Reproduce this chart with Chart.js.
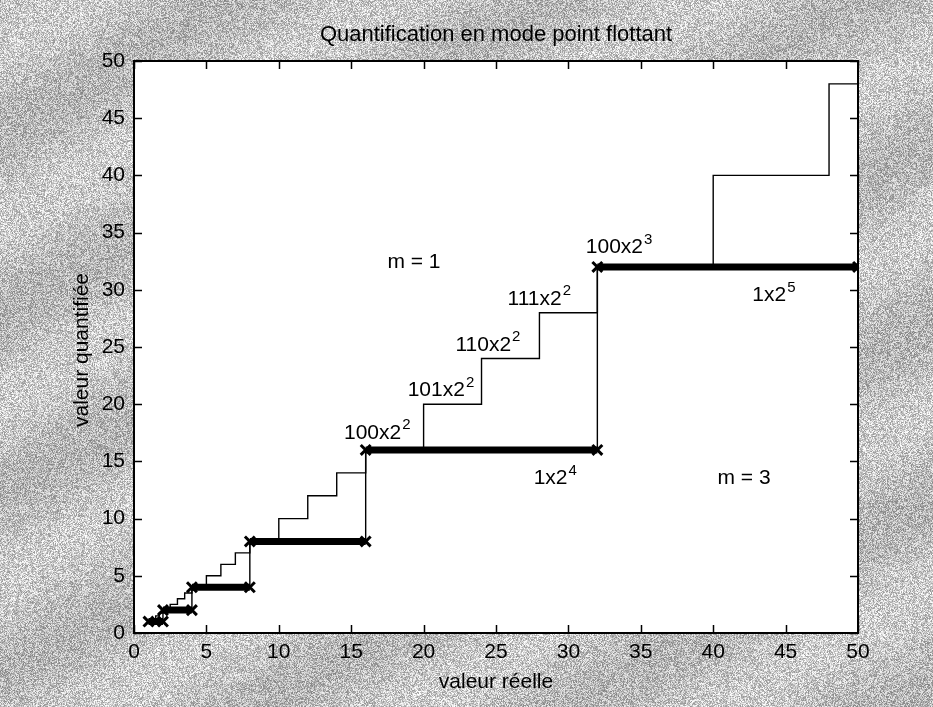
<!DOCTYPE html>
<html>
<head>
<meta charset="utf-8">
<script src="https://cdn.jsdelivr.net/npm/chart.js@4.4.0/dist/chart.umd.min.js"></script>
<style>
  html, body { margin: 0; padding: 0; background: #bcbcbc; }
  #wrap { width: 933px; height: 707px; }
</style>
</head>
<body>
<div id="wrap"><canvas id="graph" width="933" height="707"></canvas></div>
<script>
// Niveaux de quantification lus sur la figure
// m = 3 : mantisse sur 3 bits (escalier fin)
const niveauxM3 = [1, 1.25, 1.5, 1.75, 2, 2.5, 3, 3.5, 4, 5, 6, 7, 8, 10, 12, 14, 16, 20, 24, 28, 32, 40, 48];
// m = 1 : puissances de 2 (traits épais)
const niveauxM1 = [1, 2, 4, 8, 16, 32];
const xFin = 50;
const ticksX = [0, 5, 10, 15, 20, 25, 30, 35, 40, 45, 50];
const ticksY = [0, 5, 10, 15, 20, 25, 30, 35, 40, 45, 50];

// Annotations du graphique (texte, exposant)
const etiquettes = [
  { txt: "m = 1", exp: "", x: 17.5, y: 32.4 },
  { txt: "m = 3", exp: "", x: 40.3, y: 13.5 },
  { txt: "100x2", exp: "2", x: 14.5, y: 17.5 },
  { txt: "101x2", exp: "2", x: 18.9, y: 21.2 },
  { txt: "110x2", exp: "2", x: 22.2, y: 25.2 },
  { txt: "111x2", exp: "2", x: 25.8, y: 29.2 },
  { txt: "100x2", exp: "3", x: 31.2, y: 33.7 },
  { txt: "1x2", exp: "4", x: 27.6, y: 13.5 },
  { txt: "1x2", exp: "5", x: 42.7, y: 29.5 }
];

// Escalier m = 3
const ptsM3 = niveauxM3.map(v => ({ x: v, y: v }));
ptsM3.push({ x: xFin, y: niveauxM3[niveauxM3.length - 1] });

// Escalier m = 1 (trait fin)
const ptsM1 = niveauxM1.map(v => ({ x: v, y: v }));
ptsM1.push({ x: xFin, y: niveauxM1[niveauxM1.length - 1] });

// Paliers épais m = 1
const paliers = [];
niveauxM1.forEach((v, i) => {
  const fin = i < niveauxM1.length - 1 ? niveauxM1[i + 1] : xFin;
  paliers.push({ x: v, y: v }, { x: fin, y: v });
  if (i < niveauxM1.length - 1) paliers.push({ x: fin, y: null });
});

const police = "'Liberation Sans', Arial, sans-serif";

// Fond gris granuleux (scan) + zone blanche + cadre et graduations
const fondPlugin = {
  id: "fond",
  beforeDraw(chart) {
    const { ctx, width, height, chartArea: a } = chart;
    const img = ctx.createImageData(width, height);
    const d = img.data;
    for (let y = 0; y < height; y++) {
      for (let x = 0; x < width; x++) {
        let h = Math.imul(x, 374761393) ^ Math.imul(y, 668265263);
        h = Math.imul(h ^ (h >>> 13), 1274126177);
        h = (h ^ (h >>> 16)) & 255;
        const v = 140 + h * 0.42 + 12 * Math.sin(x * 0.02 + y * 0.035);
        const i = (y * width + x) * 4;
        d[i] = d[i + 1] = d[i + 2] = v;
        d[i + 3] = 255;
      }
    }
    ctx.putImageData(img, 0, 0);
    ctx.save();
    ctx.fillStyle = "#ffffff";
    ctx.fillRect(a.left, a.top, a.right - a.left, a.bottom - a.top);
    ctx.restore();
  },
  afterDraw(chart) {
    const { ctx, chartArea: a, scales } = chart;
    ctx.save();
    ctx.strokeStyle = "#000";
    ctx.lineWidth = 1.5;
    ctx.beginPath();
    ticksX.forEach(t => {
      const px = Math.round(scales.x.getPixelForValue(t)) + 0.5;
      ctx.moveTo(px, a.bottom); ctx.lineTo(px, a.bottom - 8);
      ctx.moveTo(px, a.top); ctx.lineTo(px, a.top + 8);
    });
    ticksY.forEach(t => {
      const py = Math.round(scales.y.getPixelForValue(t)) + 0.5;
      ctx.moveTo(a.left, py); ctx.lineTo(a.left + 8, py);
      ctx.moveTo(a.right, py); ctx.lineTo(a.right - 8, py);
    });
    ctx.stroke();
    ctx.lineWidth = 2;
    ctx.strokeRect(a.left, a.top, a.right - a.left, a.bottom - a.top);

    // annotations
    ctx.fillStyle = "#000";
    ctx.textBaseline = "middle";
    ctx.textAlign = "left";
    etiquettes.forEach(e => {
      const px = scales.x.getPixelForValue(e.x);
      const py = scales.y.getPixelForValue(e.y);
      ctx.font = "21px " + police;
      ctx.fillText(e.txt, px, py);
      if (e.exp) {
        const w = ctx.measureText(e.txt).width;
        ctx.font = "15px " + police;
        ctx.fillText(e.exp, px + w + 1, py - 8);
      }
    });

    // titre et libellés d'axes
    ctx.font = "22px " + police;
    ctx.textAlign = "center";
    ctx.fillText("Quantification en mode point flottant", (a.left + a.right) / 2, 35);
    ctx.font = "21px " + police;
    ctx.fillText("valeur réelle", (a.left + a.right) / 2, 682);
    ctx.translate(82, (a.top + a.bottom) / 2 + 3);
    ctx.rotate(-Math.PI / 2);
    ctx.fillText("valeur quantifiée", 0, 0);
    ctx.restore();
  }
};

const ctx = document.getElementById("graph").getContext("2d");
new Chart(ctx, {
  type: "line",
  data: {
    datasets: [
      {
        label: "m = 1 (paliers)",
        data: paliers,
        borderColor: "#000",
        borderWidth: 7,
        spanGaps: false,
        pointStyle: "crossRot",
        pointRadius: 7,
        pointBorderWidth: 3,
        pointBorderColor: "#000",
        borderCapStyle: "butt"
      },
      {
        label: "m = 1",
        data: ptsM1,
        stepped: "before",
        borderColor: "#000",
        borderWidth: 1.4,
        pointRadius: 0
      },
      {
        label: "m = 3",
        data: ptsM3,
        stepped: "before",
        borderColor: "#000",
        borderWidth: 1.4,
        pointRadius: 0
      }
    ]
  },
  options: {
    responsive: false,
    animation: false,
    devicePixelRatio: 1,
    layout: { padding: { top: 61, right: 75, left: 0, bottom: 0 } },
    plugins: {
      legend: { display: false },
      tooltip: { enabled: false }
    },
    scales: {
      x: {
        type: "linear",
        min: 0,
        max: 50,
        afterBuildTicks: s => { s.ticks = ticksX.map(v => ({ value: v })); },
        afterFit: s => { s.height = 74; },
        grid: { display: false, drawTicks: false },
        border: { display: false },
        ticks: { color: "#000", padding: 7, font: { family: police, size: 21 } }
      },
      y: {
        type: "linear",
        min: 0,
        max: 50,
        afterBuildTicks: s => { s.ticks = ticksY.map(v => ({ value: v })); },
        afterFit: s => { s.width = 134; },
        grid: { display: false, drawTicks: false },
        border: { display: false },
        ticks: { color: "#000", padding: 9, font: { family: police, size: 21 } }
      }
    }
  },
  plugins: [fondPlugin]
});
</script>
</body>
</html>
